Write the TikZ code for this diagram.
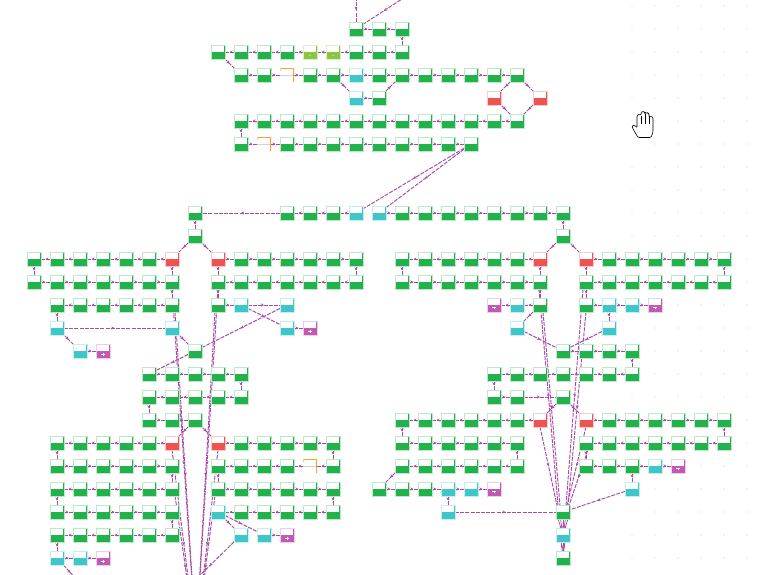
\documentclass[tikz,border=0pt]{standalone}
\usetikzlibrary{arrows.meta,decorations.markings,backgrounds}
\definecolor{gn}{HTML}{22B24C}
\definecolor{lgn}{HTML}{8CC63F}
\definecolor{cy}{HTML}{3EC6C8}
\definecolor{rd}{HTML}{EF5350}
\definecolor{mg}{HTML}{C25AB5}
\definecolor{og}{HTML}{F2A33A}
\definecolor{pur}{HTML}{A64CA6}
\definecolor{dotc}{HTML}{D2D2D2}
\newcommand\boxpic[1]{%
  \fill[#1] (path picture bounding box.west) rectangle (path picture bounding box.south east);
  \draw[#1!45,line width=1.4pt] (path picture bounding box.north west) -- (path picture bounding box.north east);
  \draw[#1,line width=1.6pt] (path picture bounding box.north east) -- (path picture bounding box.south east);}
\tikzset{
 basebox/.style={minimum width=14pt,minimum height=13.5pt,inner sep=0pt,outer sep=0pt,draw=#1!30,fill=white,line width=0.4pt,path picture={\boxpic{#1}}},
 gbox/.style={basebox=gn},
 lbox/.style={basebox=lgn,path picture={\boxpic{lgn}\fill[white] ([yshift=3.3pt]path picture bounding box.south) circle (0.5pt);}},
 cbox/.style={basebox=cy},
 rbox/.style={basebox=rd},
 mpbox/.style={basebox=mg,path picture={\boxpic{mg}\draw[white,line width=0.7pt] ([shift={(-1.8pt,3.4pt)}]path picture bounding box.south) -- ++(3.6pt,0pt) ([shift={(0pt,1.6pt)}]path picture bounding box.south) -- ++(0pt,3.6pt);}},
 mmbox/.style={basebox=mg,path picture={\boxpic{mg}\draw[white,line width=0.7pt] ([shift={(-2pt,4.2pt)}]path picture bounding box.south) -- ++(4pt,0pt) ([shift={(0pt,4.2pt)}]path picture bounding box.south) -- ++(0pt,-1.6pt);}},
 obox/.style={minimum width=14pt,minimum height=13.5pt,inner sep=0pt,outer sep=0pt,draw=none,fill=white,path picture={\draw[gray!35,line width=0.8pt] (path picture bounding box.west) -- (path picture bounding box.east); \draw[og,line width=1.6pt] (path picture bounding box.north west) -- (path picture bounding box.north east) -- (path picture bounding box.south east); \draw[og!60,line width=1.2pt] (path picture bounding box.north west) -- ([yshift=-3pt]path picture bounding box.north west);}},
 cn/.style={pur,line width=0.95pt,dash pattern=on 4pt off 1.2pt,postaction={decorate},decoration={markings,mark=at position 0.5 with {\arrow[solid]{Stealth[length=3pt,width=3pt]}}}},
 fan/.style={pur,line width=0.7pt},
}
\newcommand\ND[3]{\node[#1] (n#2-#3) at ({11+23*#2},{6+23*#3}) {};}
\newcommand\EG[2]{\draw[cn] (n#1) -- (n#2);}
\newcommand\chainR[3]{\foreach \i in {#2,...,#3}{\ifnum\i<#3\relax\pgfmathtruncatemacro\nx{\i+1}\draw[cn] (n\i-#1) -- (n\nx-#1);\fi}}
\newcommand\chainL[3]{\foreach \i in {#2,...,#3}{\ifnum\i>#3\relax\pgfmathtruncatemacro\nx{\i-1}\draw[cn] (n\i-#1) -- (n\nx-#1);\fi}}
\begin{document}
\begin{tikzpicture}[x=1pt,y=-1pt]
\useasboundingbox (0,0) rectangle (759,574);
% ---------- nodes ----------
\foreach \i in {15,16,17} {\ND{gbox}{\i}{1}}
\foreach \i in {9,10,11,12,15,16,17} {\ND{gbox}{\i}{2}}
\ND{lbox}{13}{2} \ND{lbox}{14}{2}
\foreach \i in {10,11,13,14,16,17,18,19,20,21,22} {\ND{gbox}{\i}{3}}
\ND{obox}{12}{3} \ND{cbox}{15}{3}
\ND{cbox}{15}{4} \ND{gbox}{16}{4} \ND{rbox}{21}{4} \ND{rbox}{23}{4}
\foreach \i in {10,...,22} {\ND{gbox}{\i}{5}}
\ND{gbox}{10}{6} \ND{obox}{11}{6}
\foreach \i in {12,...,20} {\ND{gbox}{\i}{6}}
% row 9-10
\ND{gbox}{8}{9}
\foreach \i in {12,13,14} {\ND{gbox}{\i}{9}}
\ND{cbox}{15}{9} \ND{cbox}{16}{9}
\foreach \i in {17,...,24} {\ND{gbox}{\i}{9}}
\ND{gbox}{8}{10} \ND{gbox}{24}{10}
% row 11
\foreach \i in {1,...,6} {\ND{gbox}{\i}{11}}
\ND{rbox}{7}{11} \ND{rbox}{9}{11}
\foreach \i in {10,...,15} {\ND{gbox}{\i}{11}}
\foreach \i in {17,...,22} {\ND{gbox}{\i}{11}}
\ND{rbox}{23}{11} \ND{rbox}{25}{11}
\foreach \i in {26,...,31} {\ND{gbox}{\i}{11}}
% row 12
\foreach \i in {1,...,7} {\ND{gbox}{\i}{12}}
\foreach \i in {9,...,15} {\ND{gbox}{\i}{12}}
\foreach \i in {17,...,23} {\ND{gbox}{\i}{12}}
\foreach \i in {25,...,31} {\ND{gbox}{\i}{12}}
% row 13
\foreach \i in {2,...,7} {\ND{gbox}{\i}{13}}
\ND{gbox}{9}{13} \ND{cbox}{10}{13} \ND{cbox}{12}{13}
\ND{mmbox}{21}{13} \ND{cbox}{22}{13} \ND{gbox}{23}{13}
\ND{gbox}{25}{13} \ND{cbox}{26}{13} \ND{cbox}{27}{13} \ND{mmbox}{28}{13}
% row 14
\ND{cbox}{2}{14} \ND{cbox}{7}{14} \ND{cbox}{12}{14} \ND{mpbox}{13}{14}
\ND{cbox}{22}{14} \ND{cbox}{26}{14}
% row 15
\ND{cbox}{3}{15} \ND{mpbox}{4}{15} \ND{gbox}{8}{15}
\foreach \i in {24,...,27} {\ND{gbox}{\i}{15}}
% row 16-17
\foreach \i in {6,...,10} {\ND{gbox}{\i}{16}}
\foreach \i in {21,...,27} {\ND{gbox}{\i}{16}}
\foreach \i in {6,...,10} {\ND{gbox}{\i}{17}}
\ND{gbox}{21}{17} \ND{gbox}{22}{17} \ND{gbox}{24}{17}
% row 18
\foreach \i in {6,7,8} {\ND{gbox}{\i}{18}}
\foreach \i in {17,...,22} {\ND{gbox}{\i}{18}}
\ND{rbox}{23}{18} \ND{rbox}{25}{18}
\foreach \i in {26,...,31} {\ND{gbox}{\i}{18}}
% row 19
\foreach \i in {2,...,6} {\ND{gbox}{\i}{19}}
\ND{rbox}{7}{19} \ND{rbox}{9}{19}
\foreach \i in {10,...,14} {\ND{gbox}{\i}{19}}
\foreach \i in {17,...,22} {\ND{gbox}{\i}{19}}
\foreach \i in {25,...,31} {\ND{gbox}{\i}{19}}
% row 20
\foreach \i in {2,...,7} {\ND{gbox}{\i}{20}}
\foreach \i in {9,...,12} {\ND{gbox}{\i}{20}}
\ND{obox}{13}{20} \ND{gbox}{14}{20}
\foreach \i in {17,...,22} {\ND{gbox}{\i}{20}}
\foreach \i in {25,26,27} {\ND{gbox}{\i}{20}}
\ND{cbox}{28}{20} \ND{mmbox}{29}{20}
% row 21
\foreach \i in {2,...,7} {\ND{gbox}{\i}{21}}
\foreach \i in {9,...,14} {\ND{gbox}{\i}{21}}
\foreach \i in {16,17,18} {\ND{gbox}{\i}{21}}
\ND{cbox}{19}{21} \ND{cbox}{20}{21} \ND{mmbox}{21}{21} \ND{cbox}{27}{21}
% row 22
\foreach \i in {2,...,7} {\ND{gbox}{\i}{22}}
\ND{cbox}{9}{22}
\foreach \i in {10,...,14} {\ND{gbox}{\i}{22}}
\ND{cbox}{19}{22} \ND{gbox}{24}{22}
% row 23-24
\foreach \i in {2,...,7} {\ND{gbox}{\i}{23}}
\ND{cbox}{10}{23} \ND{cbox}{11}{23} \ND{mpbox}{12}{23} \ND{cbox}{24}{23}
\ND{cbox}{2}{24} \ND{cbox}{3}{24} \ND{mpbox}{4}{24} \ND{gbox}{24}{24}
% free ends
\coordinate (t1) at (356,-3);
\coordinate (t2) at (405,-3);
\coordinate (Lc) at (196,640);
\coordinate (Ld) at (185,590);
\coordinate (bl0) at (78,581);
% ---------- background: dots and connectors ----------
\begin{scope}[on background layer]
\fill[white] (-5,-5) rectangle (764,579);
\foreach \j in {0,...,10,14,17,22,23,24} {\foreach \i in {27,...,32} {\fill[dotc] ({11+23*\i},{6+23*\j}) circle (0.7pt);}}
\foreach \j in {11,12,18,19} {\fill[dotc] ({11+23*32},{6+23*\j}) circle (0.7pt);}
\foreach \i in {29,...,32} {\fill[dotc] ({11+23*\i},{6+23*13}) circle (0.7pt);}
\foreach \j in {15,16,21} {\foreach \i in {28,...,32} {\fill[dotc] ({11+23*\i},{6+23*\j}) circle (0.7pt);}}
\foreach \i in {30,31,32} {\fill[dotc] ({11+23*\i},{6+23*20}) circle (0.7pt);}
% top part
\draw[cn] (t1) -- (n15-1);
\draw[cn] (t2) -- (n15-1);
\chainR{1}{15}{17}
\EG{17-1}{17-2}
\chainL{2}{17}{9}
\EG{9-2}{10-3}
\chainR{3}{10}{22}
\EG{14-3}{15-4} \EG{15-4}{16-4} \EG{16-4}{17-3}
\EG{22-3}{21-4} \EG{22-3}{23-4} \EG{21-4}{22-5} \EG{23-4}{22-5}
\chainL{5}{22}{10}
\EG{10-5}{10-6}
\chainR{6}{10}{20}
\EG{20-6}{15-9} \EG{20-6}{16-9}
% row 9
\chainL{9}{15}{12}
\EG{12-9}{8-9}
\chainR{9}{16}{24}
\EG{8-9}{8-10} \EG{24-9}{24-10}
% left cluster upper
\EG{8-10}{7-11} \EG{8-10}{9-11}
\chainL{11}{7}{1} \EG{1-11}{1-12} \chainR{12}{1}{7}
\EG{7-11}{7-12} \EG{7-12}{7-13}
\chainL{13}{7}{2} \EG{2-13}{2-14}
\EG{2-14}{7-14} \EG{2-14}{3-15} \EG{3-15}{4-15} \EG{7-14}{8-15}
\chainR{11}{9}{15} \EG{15-11}{15-12} \chainL{12}{15}{9}
\EG{9-11}{9-12} \EG{9-12}{9-13}
\EG{9-13}{10-13} \EG{10-13}{12-13} \EG{10-13}{12-14} \EG{12-14}{13-14}
\EG{12-13}{8-15} \EG{8-15}{6-16}
\chainR{16}{6}{10} \EG{10-16}{10-17} \chainL{17}{10}{6} \EG{6-17}{6-18}
\chainR{18}{6}{8}
\EG{8-18}{7-19} \EG{8-18}{9-19}
% left cluster lower
\chainL{19}{7}{2} \EG{2-19}{2-20} \chainR{20}{2}{7} \EG{7-20}{7-21}
\chainL{21}{7}{2} \EG{2-21}{2-22} \chainR{22}{2}{7} \EG{7-22}{7-23}
\chainL{23}{7}{2} \EG{2-23}{2-24} \chainR{24}{2}{4}
\draw[cn] (n2-24) -- (bl0);
\chainR{19}{9}{14} \EG{14-19}{14-20} \chainL{20}{14}{9} \EG{9-20}{9-21}
\chainR{21}{9}{14} \EG{14-21}{14-22} \chainL{22}{14}{9}
\EG{9-22}{10-23} \EG{9-22}{11-23} \EG{11-23}{12-23}
\draw[cn] (n10-23) -- (Ld);
% left long lines
\draw[cn] (n7-12.south) -- (Lc);
\draw[cn] ([xshift=3pt]n7-13.south) -- (Lc);
\draw[cn] (n9-12.south) -- (Lc);
\draw[cn] ([xshift=-3pt]n9-13.south) -- (Lc);
\draw[cn] (n7-19.south) -- (Lc);
\draw[cn] (n9-19.south) -- (Lc);
\draw[cn] ([xshift=3pt]n7-21.south) -- (Lc);
\draw[cn] ([xshift=-3pt]n9-21.south) -- (Lc);
% right cluster upper
\EG{24-10}{23-11} \EG{24-10}{25-11}
\chainL{11}{23}{17} \EG{17-11}{17-12} \chainR{12}{17}{23}
\EG{23-11}{23-12} \EG{23-12}{23-13}
\EG{23-13}{22-13} \EG{22-13}{21-13} \EG{23-13}{22-14} \EG{22-14}{24-15}
\chainR{11}{25}{31} \EG{31-11}{31-12} \chainL{12}{31}{25}
\EG{25-11}{25-12} \EG{25-12}{25-13}
\EG{25-13}{26-13} \EG{26-13}{27-13} \EG{27-13}{28-13} \EG{26-13}{26-14} \EG{26-14}{24-15}
\chainR{15}{24}{27} \EG{27-15}{27-16} \chainL{16}{27}{21}
\EG{21-16}{21-17} \EG{21-17}{22-17} \EG{22-17}{24-17}
\EG{24-17}{23-18} \EG{24-17}{25-18}
% right cluster lower
\chainL{18}{23}{17} \EG{17-18}{17-19} \chainR{19}{17}{22} \EG{22-19}{22-20}
\chainL{20}{22}{17} \EG{17-20}{16-21} \chainR{21}{16}{21}
\EG{19-21}{19-22} \EG{19-22}{24-22}
\chainR{18}{25}{31} \EG{31-18}{31-19} \chainL{19}{31}{25} \EG{25-19}{25-20}
\chainR{20}{25}{29} \EG{27-20}{27-21} \EG{27-21}{24-22}
% right long lines
\draw[cn] ([xshift=-1pt]n23-12.south) -- ([xshift=-5pt]n24-22.north);
\draw[cn] ([xshift=3pt]n23-13.south) -- ([xshift=-3pt]n24-22.north);
\draw[cn] ([xshift=-3pt]n25-12.south) -- ([xshift=3pt]n24-22.north);
\draw[cn] (n25-13.south) -- ([xshift=5pt]n24-22.north);
\draw[cn] (n23-18.south) -- ([xshift=-6pt]n24-22.north);
\draw[cn] (n25-18.south) -- ([xshift=4pt]n24-22.north);
\draw[cn] ([xshift=2pt]n25-19.south) -- ([xshift=6pt]n24-22.north);
% fans below the join
\foreach \s/\t in {-5/-2,-2.5/-1,0/0,2.5/1,5/2} {\draw[fan,-{Stealth[length=2pt,width=2pt]}] ([xshift=\s pt]n24-22.south) -- ([xshift=\t pt]n24-23.north);}
\foreach \s in {-2,0,2} {\draw[pur,line width=0.9pt] ([xshift=\s pt]n24-23.south) -- ([xshift=0.3*\s pt]n24-24.north);}
\fill[mg] (563,547) circle (1.8pt);
\end{scope}
% ---------- hand cursor ----------
\draw[black,line width=0.6pt,fill=white,rounded corners=1.2pt] (638,137.5) -- (632.5,128) -- (632,125.5) -- (634.5,125) -- (637,128) -- (637,115.5) -- (639,114) -- (641,115.5) -- (641,112.5) -- (643,111) -- (645,112.5) -- (645,113.5) -- (647,112.5) -- (649,113.5) -- (649,117) -- (651,116) -- (653,117.5) -- (653,132) -- (651,137.5) -- cycle;
\draw[black,line width=0.5pt] (641,115.5) -- (641,124) (645,113.5) -- (645,124) (649,117) -- (649,124);
\end{tikzpicture}
\end{document}
